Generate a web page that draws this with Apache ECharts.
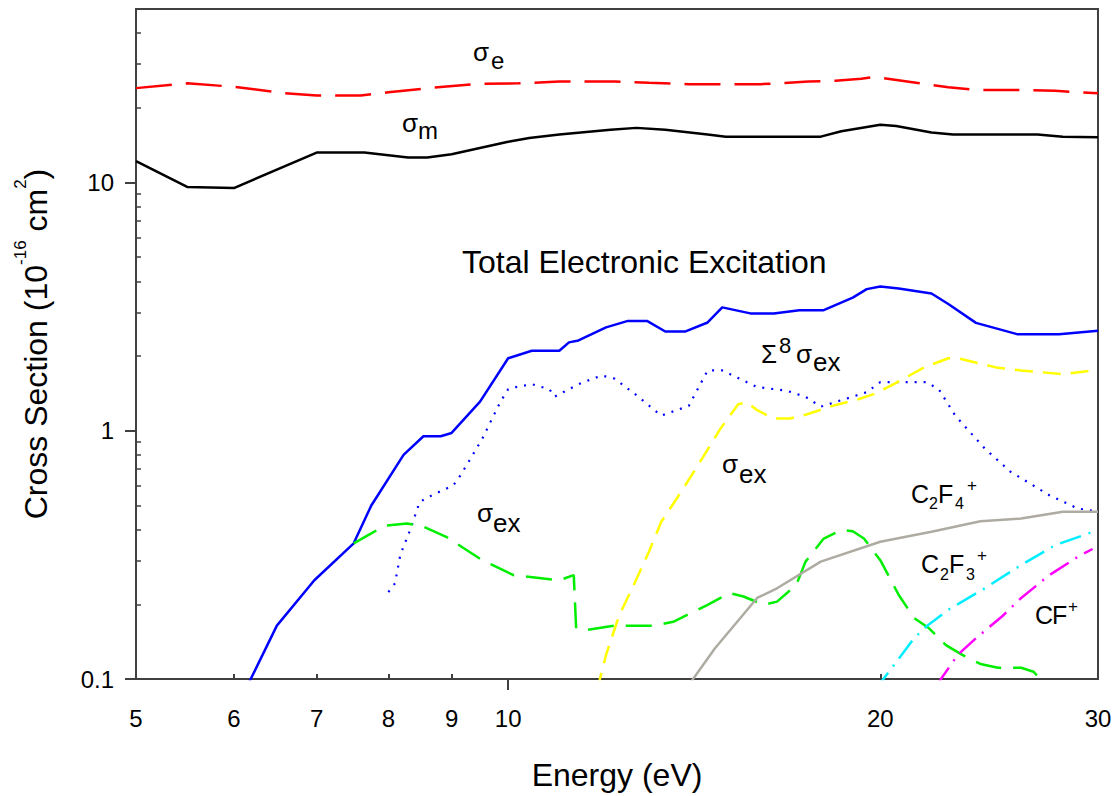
<!DOCTYPE html>
<html><head><meta charset="utf-8">
<script src="https://cdn.jsdelivr.net/npm/echarts@6/dist/echarts.min.js"></script>
<style>html,body{margin:0;padding:0;background:#fff}#c{width:1116px;height:796px}</style>
</head><body><div id="c"></div>
<script>
// ---- axis tick values ----
const xLabelValues = [5, 6, 7, 8, 9, 10, 20, 30];
const xMajorTicks = [10];
const xMinorTicks = [6, 7, 8, 9, 20];
const yLabelValues = [0.1, 1, 10];
const yMajorTicks = [0.1, 1, 10];
const yMinorTicks = [0.2, 0.3, 0.4, 0.5, 0.6, 0.7, 0.8, 0.9, 2, 3, 4, 5, 6, 7, 8, 9, 20, 30, 40];

// ---- series data [energy eV, cross section 1e-16 cm2] ----
const sigmaE = [[5,24.0],[5.5,25.1],[6,24.3],[6.6,22.9],[7,22.4],[7.6,22.4],[8,23.1],[8.7,24.1],[9.5,25.0],[10.2,25.1],[11,25.5],[12.2,25.5],[13,25.2],[14,24.9],[16,24.9],[17.5,25.5],[18.4,25.7],[19.3,26.2],[19.8,26.6],[21.3,25.3],[22.7,24.2],[23.9,23.6],[25.8,23.6],[27.7,23.4],[30,22.9]];
const sigmaM = [[5,12.2],[5.5,9.6],[6,9.5],[7,13.2],[7.65,13.2],[8.3,12.6],[8.6,12.6],[9,13.0],[10,14.6],[10.4,15.1],[11,15.6],[12.1,16.3],[12.7,16.6],[13.4,16.3],[14.5,15.6],[15,15.3],[17.9,15.3],[18.6,16.1],[20,17.1],[20.6,16.9],[22,15.9],[22.9,15.6],[26.8,15.6],[28.1,15.3],[30,15.2]];
const totalExc = [[6.1,0.086],[6.5,0.164],[6.97,0.25],[7.5,0.352],[7.75,0.50],[8.23,0.80],[8.54,0.95],[8.82,0.95],[9.0,0.98],[9.49,1.31],[10.0,1.96],[10.45,2.10],[11.0,2.10],[11.2,2.27],[11.4,2.31],[12.0,2.61],[12.5,2.77],[12.95,2.77],[13.4,2.51],[13.9,2.51],[14.5,2.73],[14.9,3.14],[15.7,2.97],[16.4,2.97],[17.2,3.06],[18.0,3.06],[19.0,3.44],[19.5,3.72],[20.0,3.81],[20.7,3.74],[22.0,3.57],[22.7,3.24],[23.9,2.72],[25.8,2.45],[27.9,2.45],[30,2.53]];
const sum8 = [[8.0,0.224],[8.1,0.243],[8.18,0.316],[8.34,0.404],[8.48,0.517],[8.68,0.55],[9.03,0.603],[9.15,0.661],[9.34,0.784],[9.53,0.929],[9.69,1.10],[9.85,1.30],[10.0,1.47],[10.15,1.50],[10.45,1.54],[10.8,1.47],[10.9,1.37],[11.4,1.54],[11.9,1.67],[12.2,1.62],[12.7,1.39],[13.3,1.15],[14.0,1.26],[14.5,1.75],[14.9,1.75],[15.9,1.50],[16.8,1.45],[17.4,1.37],[17.9,1.25],[19.5,1.43],[20.0,1.57],[21.8,1.57],[22.3,1.47],[23.0,1.15],[24.3,0.847],[25.5,0.683],[27.4,0.55],[28.9,0.486],[30,0.473]];
const sigmaExLow = [[7.5,0.352],[7.75,0.386],[7.94,0.414],[8.28,0.423],[8.51,0.414],[8.91,0.374],[9.53,0.301],[10.1,0.262],[11.0,0.25],[11.3,0.262],[11.35,0.16],[11.6,0.158],[12.2,0.164],[13.1,0.164],[13.6,0.17],[14.5,0.199],[15.1,0.222],[15.5,0.215],[16.1,0.199],[16.5,0.205],[17.1,0.239],[17.4,0.297],[18.0,0.368],[18.6,0.398],[19.0,0.394],[19.4,0.368],[20.0,0.301],[20.7,0.218],[21.3,0.176],[21.9,0.16],[22.6,0.137],[23.3,0.125],[24.1,0.115],[24.9,0.111],[26.0,0.111],[26.6,0.107],[27.5,0.09]];
const sigmaExHigh = [[11.8,0.09],[12.0,0.125],[12.3,0.181],[12.6,0.232],[13.0,0.326],[13.3,0.43],[13.8,0.567],[14.35,0.772],[14.85,1.02],[15.35,1.28],[15.6,1.30],[15.9,1.21],[16.4,1.12],[16.9,1.12],[17.4,1.16],[18.3,1.26],[19.2,1.34],[19.8,1.41],[20.4,1.52],[21.7,1.80],[22.7,1.96],[23.2,1.95],[24.8,1.80],[26.0,1.75],[28.1,1.69],[30,1.76]];
const c2f4 = [[13.9,0.09],[14.7,0.133],[15.9,0.212],[16.5,0.232],[17.9,0.297],[20.0,0.357],[22.0,0.392],[24.1,0.432],[26.0,0.443],[28.1,0.472],[30,0.472]];
const c2f3 = [[19.8,0.09],[21.3,0.146],[21.8,0.163],[22.7,0.19],[24.3,0.232],[26.0,0.288],[27.7,0.346],[30,0.398]];
const cfPlus = [[22.2,0.094],[23.1,0.125],[23.9,0.146],[25.1,0.179],[26.0,0.212],[27.4,0.262],[28.9,0.311],[29.7,0.334]];

const FONT = '"Liberation Sans", Arial, sans-serif';
const AX = '#404040';

const chart = echarts.init(document.getElementById('c'), null, {renderer: 'svg'});

function line(data, color, type, width) {
  return {
    type: 'line', data: data, showSymbol: false, symbol: 'none', animation: false,
    clip: true, silent: true, xAxisIndex: 0, yAxisIndex: 0,
    lineStyle: {color: color, width: width || 2.5, type: type || 'solid', cap: 'butt'}
  };
}

function txt(text, x, y, size, family) {
  return {type: 'text', x: x, y: y, silent: true,
    style: {text: text, fontSize: size, fontFamily: family || FONT, fill: '#000',
      align: 'left', textAlign: 'left', verticalAlign: 'middle', textVerticalAlign: 'middle'}};
}

const fmt = v => String(v);

chart.setOption({
  backgroundColor: '#fff',
  animation: false,
  grid: {left: 136, right: 18, top: 9, bottom: 115, show: true, borderColor: AX, borderWidth: 2, backgroundColor: 'transparent'},
  xAxis: [
    {type: 'log', logBase: 10, min: 5, max: 30, position: 'bottom',
     axisLine: {show: true, lineStyle: {color: AX, width: 2}},
     axisTick: {show: true, customValues: xMajorTicks, inside: false, length: 11, lineStyle: {color: AX, width: 2}},
     axisLabel: {show: true, customValues: xLabelValues, margin: 27, fontSize: 24, color: '#000', fontFamily: FONT, formatter: fmt},
     splitLine: {show: false}, minorTick: {show: false},
     name: 'Energy (eV)', nameLocation: 'middle', nameGap: 80,
     nameTextStyle: {fontSize: 32, color: '#000', fontFamily: FONT}},
    {type: 'log', logBase: 10, min: 5, max: 30, position: 'bottom',
     axisLine: {show: false},
     axisTick: {show: true, customValues: xMinorTicks, inside: true, length: 5, lineStyle: {color: AX, width: 2}},
     axisLabel: {show: false}, splitLine: {show: false}}
  ],
  yAxis: [
    {type: 'log', logBase: 10, min: 0.1, max: 50, position: 'left',
     axisLine: {show: true, lineStyle: {color: AX, width: 2}},
     axisTick: {show: true, customValues: yMajorTicks, inside: false, length: 11, lineStyle: {color: AX, width: 2}},
     axisLabel: {show: true, customValues: yLabelValues, margin: 22, fontSize: 24, color: '#000', fontFamily: FONT, formatter: fmt},
     splitLine: {show: false}, minorTick: {show: false},
     name: '{a|Cross Section (10}{s|-16}{a| cm}{s|2}{a|)}', nameLocation: 'middle', nameGap: 84,
     nameTextStyle: {fontSize: 32, color: '#000', fontFamily: FONT,
       rich: {a: {fontSize: 32, fontFamily: FONT, color: '#000', lineHeight: 40, verticalAlign: 'bottom'},
              s: {fontSize: 17, fontFamily: FONT, color: '#000', lineHeight: 17, verticalAlign: 'top'}}}},
    {type: 'log', logBase: 10, min: 0.1, max: 50, position: 'left',
     axisLine: {show: false},
     axisTick: {show: true, customValues: yMinorTicks, inside: true, length: 5, lineStyle: {color: AX, width: 1.5}},
     axisLabel: {show: false}, splitLine: {show: false}}
  ],
  series: [
    line(sigmaE, '#ff0000', [36, 14]),
    line(sigmaM, '#000000', 'solid'),
    line(totalExc, '#0000ff', 'solid'),
    line(sum8, '#0000ff', [2, 7], 2.2),
    line(sigmaExLow, '#00ee00', [26, 12]),
    line(sigmaExHigh, '#ffff00', [18, 10]),
    line(c2f4, '#aeaca2', 'solid'),
    line(c2f3, '#00eeff', [22, 8, 2, 8]),
    line(cfPlus, '#ff00ff', [22, 8, 2, 8])
  ],
  graphic: [
    txt('σ', 473, 52, 26), txt('e', 491, 60, 24),
    txt('σ', 402, 123, 26), txt('m', 418, 130, 24),
    txt('Total Electronic Excitation', 462, 262, 32),
    txt('Σ', 761, 354, 26), txt('8', 779, 345, 22), txt('σ', 796, 354, 26), txt('ex', 813, 362, 26),
    txt('σ', 477, 513, 26), txt('ex', 493, 523, 26),
    txt('σ', 722, 464, 26), txt('ex', 739, 474, 26),
    txt('C', 911, 494, 25), txt('2', 929, 503, 16), txt('F', 938, 494, 25), txt('4', 955, 503, 16), txt('+', 967, 485, 17),
    txt('C', 921, 564, 25), txt('2', 940, 574, 16), txt('F', 949, 564, 25), txt('3', 966, 574, 16), txt('+', 977, 555, 17),
    txt('C', 1035, 615, 25), txt('F', 1052, 615, 25), txt('+', 1068, 606, 17)
  ]
});
</script></body></html>
